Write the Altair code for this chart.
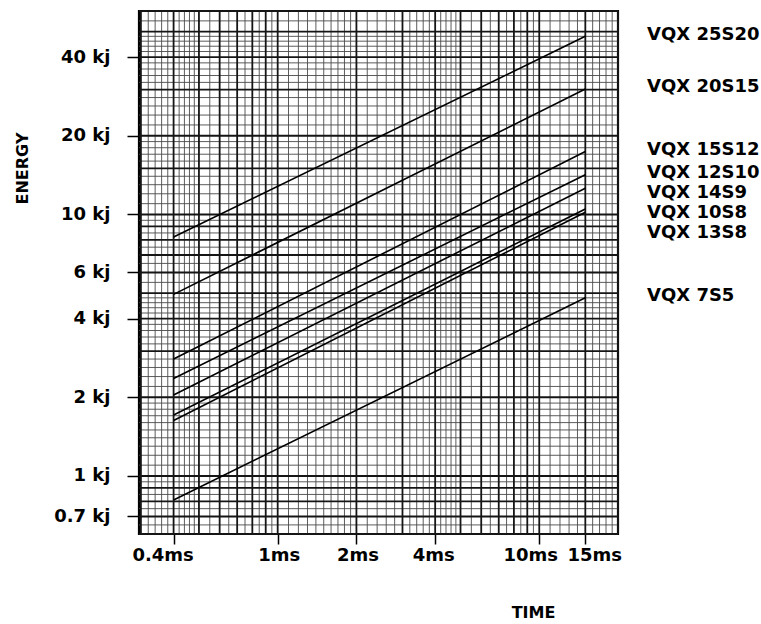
import altair as alt
import pandas as pd
import math

# ---------------- data ----------------
series_names = ["VQX 25S20", "VQX 20S15", "VQX 15S12", "VQX 12S10",
                "VQX 14S9", "VQX 10S8", "VQX 13S8", "VQX 7S5"]
time_start = 0.4      # ms
time_end = 15         # ms
energy_start = [8.2, 4.95, 2.8, 2.36, 2.04, 1.71, 1.63, 0.81]   # kJ
energy_end = [48.0, 30.2, 17.4, 14.2, 12.6, 10.5, 10.2, 4.8]     # kJ

x_tick_values = [0.4, 1, 2, 4, 10, 15]
x_tick_labels = ["0.4ms", "1ms", "2ms", "4ms", "10ms", "15ms"]
y_tick_values = [0.7, 1, 2, 4, 6, 10, 20, 40]
y_tick_labels = ["0.7 kj", "1 kj", "2 kj", "4 kj", "6 kj", "10 kj", "20 kj", "40 kj"]

x_domain = [0.295, 20]
y_domain = [0.6, 60]

# log-paper grid mantissas
major_mant = [1, 2, 3, 4, 5, 6, 7, 8, 9]
minor_mant = [1.1, 1.2, 1.3, 1.4, 1.5, 1.6, 1.7, 1.8, 1.9,
              2.2, 2.4, 2.6, 2.8, 3.2, 3.4, 3.6, 3.8, 4.2, 4.4, 4.6, 4.8,
              5.5, 6.5, 7.5, 8.5, 9.5]
decades = [0.1, 1, 10]
extra_major = [15]

# ---------------- layout / style ----------------
W, H = 479, 523
PAD_L, PAD_T = 139, 11
FONT = "DejaVu Sans"
x_label_shift = [-11, 1, 1, -2, -9, 9]   # pixel nudges of the x tick labels


def grid_vals(mants, lo, hi, extra=()):
    vals = sorted({round(m * d, 4) for m in mants for d in decades} | set(extra))
    return [v for v in vals if lo * 0.999 <= v <= hi * 1.001]


x_major = grid_vals(major_mant, *x_domain, extra=extra_major)
x_minor = [v for v in grid_vals(minor_mant, *x_domain) if v not in x_major]
y_major = grid_vals(major_mant, *y_domain, extra=extra_major)
y_minor = [v for v in grid_vals(minor_mant, *y_domain) if v not in y_major]

rows = []
for n, e0, e1 in zip(series_names, energy_start, energy_end):
    rows.append({"series": n, "t": time_start, "e": e0})
    rows.append({"series": n, "t": time_end, "e": e1})
lines_df = pd.DataFrame(rows)

# label placement: start at each line end, push down to avoid overlap
px_per_dec = H / math.log10(y_domain[1] / y_domain[0])
gap = 20 / px_per_dec
order = sorted(range(len(series_names)), key=lambda i: -energy_end[i])
label_log = {}
prev = None
for i in order:
    v = math.log10(energy_end[i]) + 1.5 / px_per_dec
    if prev is not None and v > prev - gap:
        v = prev - gap
    label_log[i] = v
    prev = v
labels_df = pd.DataFrame({
    "series": series_names,
    "label_e": [10 ** label_log[i] for i in range(len(series_names))],
})

xs = alt.Scale(type="log", domain=x_domain, nice=False)
ys = alt.Scale(type="log", domain=y_domain, nice=False)


def label_expr(vals, labs):
    expr = "''"
    for v, l in reversed(list(zip(vals, labs))):
        expr = f"abs(datum.value - {v}) < 1e-6 ? '{l}' : ({expr})"
    return expr


x_label_offset = {
    "condition": [{"test": f"abs(datum.value - {v}) < 1e-6", "value": s}
                  for v, s in zip(x_tick_values, x_label_shift) if s != 0],
    "value": 0,
}

x_axis = alt.Axis(
    values=x_tick_values, labelExpr=label_expr(x_tick_values, x_tick_labels),
    grid=False, domain=False, tickSize=10, tickColor="black", tickWidth=1.5,
    labelFont=FONT, labelFontSize=18, labelFontWeight="bold", labelColor="black",
    labelPadding=2, labelOverlap=False, labelFlush=False,
    labelOffset=x_label_offset,
    title="TIME", titleFont=FONT, titleFontSize=16, titleFontWeight="bold",
    titleColor="black", titleX=394, titleY=78, titleAlign="center",
    titleBaseline="middle", titleAngle=0,
)
y_axis = alt.Axis(
    values=y_tick_values, labelExpr=label_expr(y_tick_values, y_tick_labels),
    grid=False, domain=False, tickSize=12, tickColor="black", tickWidth=1.5,
    labelFont=FONT, labelFontSize=18, labelFontWeight="bold", labelColor="black",
    labelPadding=17, labelOverlap=False, labelFlush=False,
    title="ENERGY", titleFont=FONT, titleFontSize=16, titleFontWeight="bold",
    titleColor="black", titleX=-117, titleY=157, titleAlign="center",
    titleBaseline="middle", titleAngle=-90,
)

minor_col, major_col = "#4a4a4a", "#151515"

gx_minor = alt.Chart(pd.DataFrame({"v": x_minor})).mark_rule(
    color=minor_col, strokeWidth=0.9).encode(x=alt.X("v:Q", scale=xs, axis=x_axis))
gx_major = alt.Chart(pd.DataFrame({"v": x_major})).mark_rule(
    color=major_col, strokeWidth=1.8).encode(x=alt.X("v:Q", scale=xs, axis=x_axis))
gy_minor = alt.Chart(pd.DataFrame({"v": y_minor})).mark_rule(
    color=minor_col, strokeWidth=0.9).encode(y=alt.Y("v:Q", scale=ys, axis=y_axis))
gy_major = alt.Chart(pd.DataFrame({"v": y_major})).mark_rule(
    color=major_col, strokeWidth=1.8).encode(y=alt.Y("v:Q", scale=ys, axis=y_axis))

lines = alt.Chart(lines_df).mark_line(color="black", strokeWidth=1.6).encode(
    x=alt.X("t:Q", scale=xs, axis=x_axis),
    y=alt.Y("e:Q", scale=ys, axis=y_axis),
    detail="series:N",
)

labels = alt.Chart(labels_df).mark_text(
    align="left", baseline="middle", font=FONT, fontSize=18,
    fontWeight="bold", color="black",
).encode(
    x=alt.value(W + 29),
    y=alt.Y("label_e:Q", scale=ys, axis=y_axis),
    text="series:N",
)

chart = alt.layer(gx_minor, gy_minor, gx_major, gy_major, lines, labels).properties(
    width=W, height=H,
    autosize=alt.AutoSizeParams(type="none"),
    padding={"left": PAD_L, "top": PAD_T, "right": 761 - PAD_L - W, "bottom": 624 - PAD_T - H},
    background="white",
).configure_view(stroke="black", strokeWidth=2.2)

chart.save("out.html", embed_options={"renderer": "svg", "actions": False})
